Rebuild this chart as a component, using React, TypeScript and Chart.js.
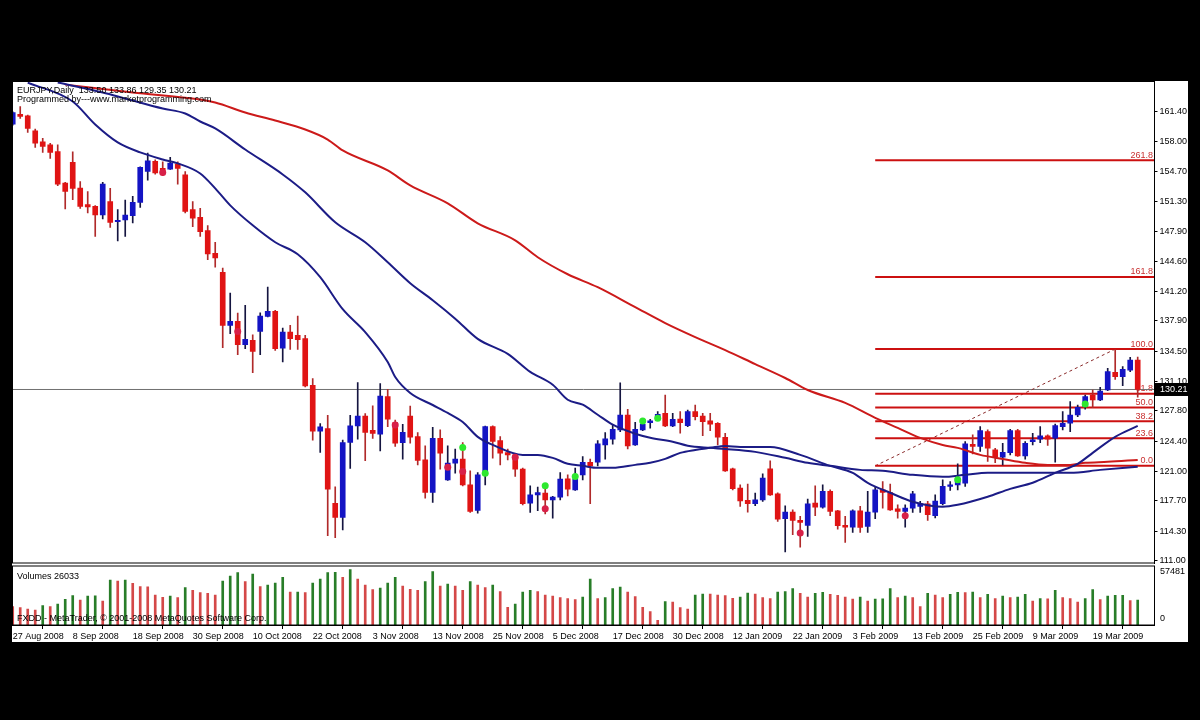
import { useEffect, useRef } from "react";
import { Chart, registerables } from "chart.js";

Chart.register(...registerables);

// ---------------- DATA ----------------
const SYMBOL_TEXT = "EURJPY,Daily  133.50 133.86 129.35 130.21";
const AUTHOR_TEXT = "Programmed by---www.marketprogramming.com";
const COPYRIGHT_TEXT = "FXDD - MetaTrader, \u00a9 2001-2008 MetaQuotes Software Corp.";

const OPEN = [159.98,161.10,160.92,159.24,158.01,157.67,156.92,153.38,155.69,152.82,
150.95,150.76,149.79,151.29,149.05,149.23,149.72,151.21,154.68,155.80,
155.02,154.94,155.50,154.31,150.39,149.53,148.04,145.50,143.37,137.40,
137.85,135.23,135.72,136.73,138.41,138.97,134.86,136.65,136.28,135.91,
130.68,125.53,125.83,117.43,115.86,124.26,126.13,127.24,125.64,125.19,
129.41,126.49,124.25,127.24,124.93,122.31,118.65,124.74,120.07,121.94,
122.39,119.51,116.64,121.01,126.05,124.48,123.13,122.87,121.27,117.46,
118.39,118.58,117.83,118.13,120.19,118.95,120.63,122.05,122.05,123.99,
124.63,125.67,127.35,123.99,125.67,126.49,126.98,127.54,126.12,126.90,
126.16,127.73,127.24,126.68,126.42,124.85,121.31,119.14,117.76,117.39,
117.83,121.30,118.50,115.71,116.45,115.52,114.96,117.46,117.01,118.77,
116.60,114.96,114.77,116.60,114.85,116.45,118.95,118.65,116.83,116.53,
116.90,117.09,117.38,116.05,117.39,119.33,119.51,119.70,124.07,123.81,
125.49,123.43,122.61,123.13,125.60,122.76,124.36,124.63,125.00,124.74,
126.05,126.42,127.35,128.29,129.59,129.03,130.15,132.13,131.65,132.39,
133.50];

const HIGH = [161.36,161.96,160.99,159.42,158.38,157.82,157.67,153.45,156.89,153.53,
152.41,150.85,153.45,152.78,150.39,151.47,151.88,155.20,156.74,155.99,
155.77,156.25,155.77,154.65,151.29,150.54,148.60,146.73,143.82,141.02,
138.78,139.64,136.35,138.82,141.69,139.08,137.10,137.40,138.44,136.28,
131.43,126.39,127.32,119.29,124.52,127.32,130.98,127.51,128.37,130.87,
130.23,126.79,126.31,128.36,125.37,123.88,125.97,125.67,123.88,123.51,
124.25,121.08,120.89,126.10,126.12,124.93,123.51,123.06,121.38,119.40,
119.25,119.14,118.21,120.89,120.63,121.38,122.69,122.39,124.48,125.37,
126.23,130.97,127.99,126.53,126.79,126.87,127.73,129.59,127.54,127.73,
127.91,128.47,127.54,127.54,126.50,125.30,121.38,119.51,119.59,118.58,
120.74,122.20,118.61,117.16,116.71,115.97,117.91,119.40,119.51,118.95,
116.65,115.97,116.71,117.09,118.77,119.33,119.89,119.59,117.27,117.27,
118.77,117.65,117.65,118.40,120.07,119.89,121.88,124.36,125.11,126.05,
125.67,123.62,124.18,125.75,125.75,124.36,125.30,126.05,125.11,126.34,
127.73,128.85,128.47,129.59,130.15,130.45,132.58,134.70,132.77,133.81,
133.86];

const LOW = [159.87,160.62,159.05,157.37,156.81,156.14,153.08,150.46,151.51,150.54,
150.02,147.40,149.34,148.41,146.88,147.40,148.90,150.65,153.71,154.38,
154.20,154.90,153.26,150.02,148.49,147.40,144.79,143.93,134.90,136.47,
134.11,134.78,132.10,134.11,138.35,134.60,133.29,134.71,134.71,130.49,
124.52,123.14,113.80,113.58,114.44,121.35,124.63,122.21,124.71,123.33,
126.05,123.81,122.39,124.18,121.75,118.02,117.53,121.27,120.00,120.82,
119.40,116.41,116.34,119.51,122.50,121.75,122.31,120.45,117.27,116.41,
116.60,116.26,115.78,117.83,118.28,118.88,120.07,117.39,121.64,122.39,
124.07,125.49,123.55,123.92,125.60,125.86,126.79,126.05,126.05,125.30,
126.05,126.79,125.04,125.60,123.99,121.01,118.95,117.09,116.45,117.16,
117.65,118.32,115.41,111.97,113.91,112.53,113.73,116.04,116.90,116.04,
114.55,113.05,114.17,114.17,114.17,115.71,116.90,116.65,115.78,114.77,
116.42,116.42,115.52,115.80,117.27,118.88,118.95,119.33,122.98,123.25,
122.13,122.01,121.75,122.87,122.69,122.39,123.99,124.25,123.92,122.05,
125.67,125.49,127.17,127.99,128.17,128.96,130.08,131.35,130.64,132.21,
129.35];

const CLOSE = [161.29,160.84,159.50,157.86,157.48,156.81,153.26,152.44,152.78,150.76,
150.69,149.79,153.26,148.97,149.19,149.79,151.21,155.13,155.88,154.50,
154.50,155.62,155.02,150.20,149.42,147.93,145.43,144.98,137.40,137.85,
135.23,135.83,134.49,138.44,138.97,134.78,136.65,135.91,135.79,130.60,
125.53,126.01,119.03,115.86,124.26,126.13,127.24,125.38,125.27,129.48,
126.87,124.18,125.41,124.85,122.24,118.65,124.74,123.06,121.94,122.39,
119.51,116.53,120.63,126.05,124.37,123.06,122.87,121.27,117.39,118.39,
118.65,117.83,118.13,120.15,119.03,120.15,122.05,121.64,124.11,124.66,
125.75,127.35,123.88,125.75,126.31,126.68,127.43,126.12,126.87,126.49,
127.73,127.17,126.61,126.31,124.85,121.08,119.07,117.72,117.39,117.83,
120.26,118.39,115.67,116.45,115.52,115.30,117.38,117.01,118.77,116.53,
114.92,114.77,116.60,114.73,116.45,118.95,118.65,116.71,116.53,116.90,
118.50,117.38,116.15,117.70,119.33,119.51,120.26,124.10,123.81,125.60,
123.62,122.61,123.17,125.60,122.76,124.18,124.55,125.00,124.63,126.16,
126.42,127.35,128.21,129.41,129.03,130.04,132.21,131.65,132.47,133.51,
130.21];

const VOLUME = [19050,18010,16620,15580,20090,19050,21820,26670,30470,25970,
30130,30200,24930,46750,45710,46750,43290,39820,39700,31170,
28740,30130,28400,38790,36020,33590,32900,31170,45710,50910,
54370,45020,52980,39820,41560,43630,49520,34280,34350,33590,
43630,47790,54370,54720,49520,57481,47790,41560,36710,38440,
43630,49520,40520,37050,36020,45020,55410,40520,42600,40520,
36020,45020,41560,38790,41560,34630,18350,21820,34280,36020,
34630,31170,30130,28400,27360,26320,29090,47790,27360,28400,
37750,39480,34280,29440,18350,13850,4850,24240,23900,18010,
16620,31170,32210,32100,31170,30470,27700,29090,33250,32210,
28400,27360,34280,34630,37750,32900,29090,32900,33940,31860,
30820,29090,27010,29090,24930,27010,27100,37750,28400,30130,
28400,19050,32900,31170,28400,31860,33940,33590,34280,28400,
31860,27360,30130,28400,29090,31860,24930,27360,27300,36020,
28400,27360,23900,27360,36710,26320,30130,30820,30900,25500,
26033];

const VOLUME_SCALE_LABEL = 57481;

const PRICE_TICKS = [161.40,158.00,154.70,151.30,147.90,144.60,141.20,137.90,134.50,131.10,127.80,124.40,121.00,117.70,114.30,111.00];

const DATE_TICK_BARS = [0,8,16,24,32,40,48,56,64,72,80,88,96,104,112,120,128,136,144];
const DATE_LABELS = ["27 Aug 2008","8 Sep 2008","18 Sep 2008","30 Sep 2008","10 Oct 2008","22 Oct 2008","3 Nov 2008","13 Nov 2008","25 Nov 2008","5 Dec 2008","17 Dec 2008","30 Dec 2008","12 Jan 2009","22 Jan 2009","3 Feb 2009","13 Feb 2009","25 Feb 2009","9 Mar 2009","19 Mar 2009"];

const FAST_MA_BARS = [2,8,11,14,17,20,22,25,27,29,32,35,38,41,44,47,50,51,53,56,58,60,62,64,68,70,72,74,76,78,80,83,85,87,89,91,93,95,97,99,101,105,109,112,114,117,120,124,126,130,133,136,139,142,144,147,150];
const FAST_MA_VALUES = [164.65,162.52,159.94,157.93,156.81,156.02,155.58,154.45,152.78,150.87,148.63,146.73,145.38,142.81,139.22,136.65,133.29,131.61,129.82,128.47,127.58,126.57,124.89,123.99,122.87,122.87,122.54,121.87,121.64,121.42,121.42,121.75,121.98,122.42,123.10,123.43,123.66,123.88,123.77,123.77,123.77,122.87,121.64,120.86,119.74,118.62,117.61,117.05,117.27,118.17,119.06,119.74,120.86,121.87,123.10,124.89,126.12];

const SLOW_MA_BARS = [6,12,15,20,23,25,27,31,36,39,43,47,50,53,56,59,62,66,69,72,74,76,78,80,83,85,88,90,93,95,99,103,106,109,113,116,120,124,127,130,133,136,141,145,150];
const SLOW_MA_VALUES = [164.65,163.53,162.86,161.74,161.18,160.28,159.50,157.14,154.34,152.33,148.97,146.73,144.49,142.14,140.23,138.16,135.89,134.21,132.19,130.74,129.06,128.50,127.38,126.26,125.25,124.80,124.35,123.90,123.66,123.54,123.21,122.54,121.98,121.64,121.19,121.08,120.63,120.41,120.63,120.86,120.86,120.86,120.86,121.19,121.53];

const RED_MA_BARS = [7,16,25,27,31,35,39,42,44,50,53,58,62,67,70,74,78,83,87,91,95,99,103,106,111,115,118,121,124,126,129,132,135,138,141,143,146,150];
const RED_MA_VALUES = [164.42,163.53,162.74,162.41,161.29,160.39,159.38,158.26,157.03,154.79,153.11,151.10,148.86,146.95,145.05,143.14,141.69,139.45,137.66,136.09,134.63,133.06,131.50,130.15,128.70,127.02,125.90,124.78,123.99,123.66,122.87,122.42,121.98,121.75,121.75,121.98,122.09,122.31];

const FIB_LABELS = ["261.8","161.8","100.0","61.8","50.0","38.2","23.6","0.0"];
const FIB_LEVELS = [155.93,142.84,134.74,129.74,128.19,126.64,124.73,121.64];
const FIB_START_BAR = 115;
const FIB_TREND_BARS = [115,147];
const FIB_TREND_PRICES = [121.64,134.74];

const GREEN_DOT_BARS = [60,63,71,75,84,86,126,143];
const GREEN_DOT_PRICES = [123.69,120.82,119.40,120.45,126.68,126.98,120.07,128.58];
const RED_DOT_BARS = [20,30,51,58,60,67,71,105,119];
const RED_DOT_PRICES = [154.57,136.73,126.23,121.49,121.01,122.61,116.82,114.10,116.04];

// ---------------- LAYOUT / STYLE ----------------
const W = 1200;
const H = 720;
const X_MIN = -0.03;
const X_MAX = 152.24;
const PRICE_MIN = 110.74;
const PRICE_MAX = 164.77;
const VOL_AXIS_MAX = 61330;
const AXIS_W = 45.5;
const FONT = "'Liberation Sans', Arial, sans-serif";

const BULL = "#1414c4";
const BEAR = "#e01414";
const BULL_WICK = "#151540";
const BEAR_WICK = "#b02a2a";
const MA_BLUE = "#1c1c86";
const MA_RED = "#cc1a1a";
const FIB_RED = "#cc1010";

export default function App() {
  const mainRef = useRef<HTMLCanvasElement | null>(null);
  const volRef = useRef<HTMLCanvasElement | null>(null);

  useEffect(() => {
    if (!mainRef.current || !volRef.current) return;
    Chart.defaults.font.family = FONT;
    Chart.defaults.font.size = 9;
    Chart.defaults.color = "#000";

    const idx = OPEN.map((_, i) => i);
    const up = (i: number) => CLOSE[i] >= OPEN[i];
    const last = CLOSE.length - 1;

    const line = (bars: number[], vals: number[], color: string, extra: any = {}) => ({
      type: "line" as const,
      data: bars.map((b, k) => ({ x: b, y: vals[k] })),
      borderColor: color,
      borderWidth: 2,
      pointRadius: 0,
      cubicInterpolationMode: "monotone",
      ...extra,
    });

    const fibDatasets = FIB_LEVELS.map((lvl) => ({
      type: "line" as const,
      data: [{ x: FIB_START_BAR, y: lvl }, { x: X_MAX, y: lvl }],
      borderColor: FIB_RED,
      borderWidth: 2,
      pointRadius: 0,
      order: 4,
    }));

    const mainPlugin = {
      id: "mtMain",
      beforeDatasetsDraw(chart: any) {
        const { ctx, chartArea, scales } = chart;
        ctx.save();
        ctx.font = `9px ${FONT}`;
        ctx.fillStyle = "#c83030";
        ctx.textAlign = "right";
        ctx.textBaseline = "alphabetic";
        FIB_LEVELS.forEach((lvl, k) => {
          const y = scales.y.getPixelForValue(lvl);
          ctx.fillText(FIB_LABELS[k], chartArea.right - 1.5, y - 2.5);
        });
        ctx.restore();
      },
      afterDraw(chart: any) {
        const { ctx, chartArea, scales } = chart;
        ctx.save();
        ctx.strokeStyle = "#000";
        ctx.lineWidth = 1;
        ctx.strokeRect(chartArea.left, chartArea.top, chartArea.right - chartArea.left, chartArea.bottom - chartArea.top);
        ctx.font = `9px ${FONT}`;
        ctx.fillStyle = "#000";
        ctx.textAlign = "left";
        ctx.textBaseline = "alphabetic";
        ctx.fillText(SYMBOL_TEXT, chartArea.left + 4.5, chartArea.top + 11.5);
        ctx.fillText(AUTHOR_TEXT, chartArea.left + 4.5, chartArea.top + 20.5);
        const py = scales.y.getPixelForValue(CLOSE[last]);
        ctx.fillStyle = "#000";
        ctx.fillRect(chartArea.right + 0.5, py - 6.5, 35, 13);
        ctx.fillStyle = "#fff";
        ctx.textBaseline = "middle";
        ctx.fillText(CLOSE[last].toFixed(2), chartArea.right + 5.5, py + 0.5);
        ctx.restore();
      },
    };

    const mainChart = new Chart(mainRef.current, {
      type: "bar",
      data: {
        datasets: [
          {
            type: "line",
            data: GREEN_DOT_BARS.map((b, k) => ({ x: b, y: GREEN_DOT_PRICES[k] })),
            showLine: false,
            pointRadius: 3.5,
            pointBackgroundColor: "#2ee82e",
            pointBorderWidth: 0,
            order: 0,
          } as any,
          {
            type: "line",
            data: RED_DOT_BARS.map((b, k) => ({ x: b, y: RED_DOT_PRICES[k] })),
            showLine: false,
            pointRadius: 3.5,
            pointBackgroundColor: "#d82048",
            pointBorderWidth: 0,
            order: 0,
          } as any,
          line(FAST_MA_BARS, FAST_MA_VALUES, MA_BLUE, { order: 1 }) as any,
          line(SLOW_MA_BARS, SLOW_MA_VALUES, MA_BLUE, { order: 1 }) as any,
          line(RED_MA_BARS, RED_MA_VALUES, MA_RED, { order: 1 }) as any,
          {
            type: "bar",
            data: idx.map((i) => ({ x: i, y: [OPEN[i], CLOSE[i]] })),
            backgroundColor: idx.map((i) => (up(i) ? BULL : BEAR)),
            borderWidth: 0,
            barThickness: 5,
            minBarLength: 1,
            grouped: false,
            order: 2,
          } as any,
          {
            type: "bar",
            data: idx.map((i) => ({ x: i, y: [LOW[i], HIGH[i]] })),
            backgroundColor: idx.map((i) => (up(i) ? BULL_WICK : BEAR_WICK)),
            borderWidth: 0,
            barThickness: 1,
            grouped: false,
            order: 3,
          } as any,
          ...(fibDatasets as any[]),
          {
            type: "line",
            data: FIB_TREND_BARS.map((b, k) => ({ x: b, y: FIB_TREND_PRICES[k] })),
            borderColor: "#8a2a2a",
            borderWidth: 1,
            borderDash: [3, 3],
            pointRadius: 0,
            order: 4,
          } as any,
          {
            type: "line",
            data: [{ x: X_MIN, y: CLOSE[last] }, { x: X_MAX, y: CLOSE[last] }],
            borderColor: "#707070",
            borderWidth: 1,
            pointRadius: 0,
            order: 5,
          } as any,
        ],
      },
      options: {
        responsive: false,
        animation: false,
        devicePixelRatio: 1,
        events: [],
        layout: { padding: { left: 12.5, top: 81.5, right: 0, bottom: 157 } },
        plugins: { legend: { display: false }, tooltip: { enabled: false } },
        scales: {
          x: { type: "linear", min: X_MIN, max: X_MAX, offset: false, display: false },
          y: {
            type: "linear",
            position: "right",
            min: PRICE_MIN,
            max: PRICE_MAX,
            afterBuildTicks: (s: any) => {
              s.ticks = PRICE_TICKS.map((v) => ({ value: v }));
            },
            afterFit: (s: any) => {
              s.width = AXIS_W;
            },
            ticks: {
              color: "#000",
              font: { size: 9, family: FONT },
              padding: 2,
              callback: (v: any) => Number(v).toFixed(2),
            },
            grid: { display: true, drawOnChartArea: false, drawTicks: true, tickLength: 3, color: "#000" },
            border: { display: true, color: "#000" },
          },
        },
      } as any,
      plugins: [mainPlugin],
    });

    const volPlugin = {
      id: "mtVol",
      afterDatasetsDraw(chart: any) {
        const { ctx, chartArea } = chart;
        ctx.save();
        ctx.font = `9px ${FONT}`;
        ctx.fillStyle = "#000";
        ctx.textAlign = "left";
        ctx.textBaseline = "alphabetic";
        ctx.fillText(COPYRIGHT_TEXT, chartArea.left + 4.5, chartArea.bottom - 4);
        ctx.restore();
      },
      afterDraw(chart: any) {
        const { ctx, chartArea } = chart;
        ctx.save();
        ctx.strokeStyle = "#000";
        ctx.lineWidth = 1;
        ctx.strokeRect(chartArea.left, chartArea.top, chartArea.right - chartArea.left, chartArea.bottom - chartArea.top);
        ctx.font = `9px ${FONT}`;
        ctx.fillStyle = "#000";
        ctx.textAlign = "left";
        ctx.textBaseline = "alphabetic";
        ctx.fillText("Volumes " + VOLUME[last], chartArea.left + 4.5, chartArea.top + 13);
        ctx.textBaseline = "middle";
        ctx.fillText(String(VOLUME_SCALE_LABEL), chartArea.right + 5.5, chartArea.top + 6);
        ctx.fillText("0", chartArea.right + 5.5, chartArea.bottom - 6);
        ctx.restore();
      },
    };

    const volChart = new Chart(volRef.current, {
      type: "bar",
      data: {
        datasets: [
          {
            data: idx.map((i) => ({ x: i, y: VOLUME[i] })),
            backgroundColor: idx.map((i) =>
              i > 0 && VOLUME[i] > VOLUME[i - 1] ? "rgb(40,125,40)" : "rgb(212,72,72)"
            ),
            borderWidth: 0,
            barThickness: 2,
            grouped: false,
          } as any,
        ],
      },
      options: {
        responsive: false,
        animation: false,
        devicePixelRatio: 1,
        events: [],
        layout: { padding: { left: 12.5, top: 566, right: 0, bottom: 75 } },
        plugins: { legend: { display: false }, tooltip: { enabled: false } },
        scales: {
          x: {
            type: "linear",
            min: X_MIN,
            max: X_MAX,
            offset: false,
            position: "bottom",
            afterBuildTicks: (s: any) => {
              s.ticks = DATE_TICK_BARS.map((v) => ({ value: v }));
            },
            afterFit: (s: any) => {
              s.height = 20;
            },
            ticks: {
              color: "#000",
              font: { size: 9, family: FONT },
              align: "start",
              autoSkip: false,
              maxRotation: 0,
              minRotation: 0,
              padding: 2,
              callback: (_v: any, i: number) => DATE_LABELS[i],
            },
            grid: { display: true, drawOnChartArea: false, drawTicks: true, tickLength: 4, color: "#000" },
            border: { display: true, color: "#000" },
          },
          y: {
            type: "linear",
            position: "right",
            min: 0,
            max: VOL_AXIS_MAX,
            afterFit: (s: any) => {
              s.width = AXIS_W;
            },
            ticks: { display: false },
            grid: { display: false },
            border: { display: true, color: "#000" },
          },
        },
      } as any,
      plugins: [volPlugin],
    });

    return () => {
      mainChart.destroy();
      volChart.destroy();
    };
  }, []);

  return (
    <div style={{ position: "fixed", left: 0, top: 0, width: W, height: H, background: "#000", overflow: "hidden" }}>
      <div style={{ position: "absolute", left: 12, top: 81, width: 1176, height: 561, background: "#fff" }} />
      <canvas ref={mainRef} width={W} height={H} style={{ position: "absolute", left: 0, top: 0, width: W, height: H }} />
      <canvas ref={volRef} width={W} height={H} style={{ position: "absolute", left: 0, top: 0, width: W, height: H }} />
    </div>
  );
}
